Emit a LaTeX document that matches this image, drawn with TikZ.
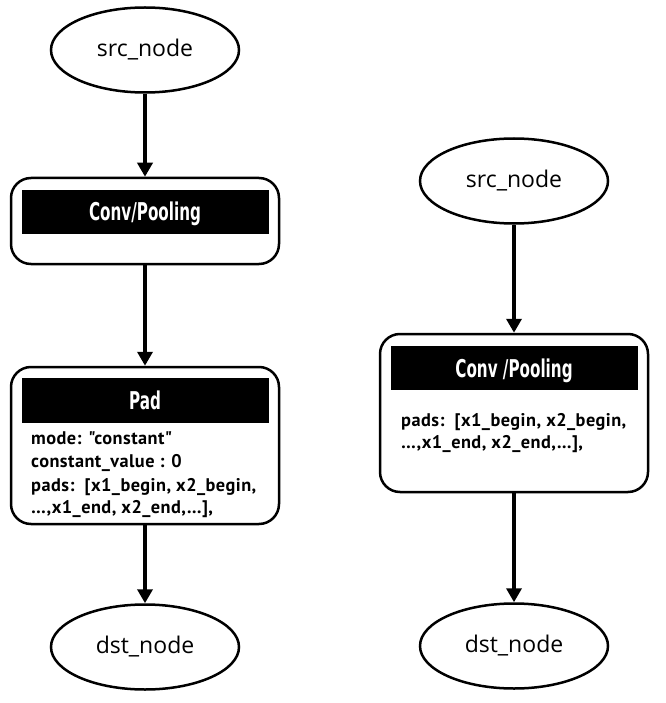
\documentclass[tikz,border=0pt]{standalone}
\usepackage{fontspec}
\usepackage{graphicx}
\usetikzlibrary{shapes.geometric,arrows.meta}
\newfontfamily\ellfont{Open Sans}
\newfontfamily\attrfont[LetterSpace=2.5]{PT Sans}
\newfontfamily\titlefont{DejaVu Sans}
\begin{document}
\begin{tikzpicture}[x=1pt,y=-1pt,
  ell/.style={ellipse,draw,line width=2.5pt,minimum width=188pt,minimum height=85pt,inner sep=0pt,
    font=\ellfont\fontsize{23}{26}\selectfont},
  opbox/.style={draw,rounded corners=20pt,line width=2.5pt,minimum width=268pt,inner sep=0pt},
  bar/.style={fill=black,minimum width=247pt,minimum height=44pt,inner sep=0pt,text=white,
    text height=18pt,text depth=0pt,font=\titlefont\bfseries\fontsize{24.5}{28}\selectfont},
  attr/.style={anchor=base west,inner sep=0pt,font=\attrfont\bfseries\fontsize{18.3}{20}\selectfont},
  flow/.style={line width=4pt,-{Triangle[width=15pt,length=14pt]}}]
\useasboundingbox (0,0) rectangle (665,703);
% left column
\node[ell] (lsrc) at (145,50) {src\_node};
\node[opbox,minimum height=86pt] (lconv) at (145,221) {};
\node[bar] (lconvbar) at (145,212) {\scalebox{0.62}[1]{Conv/Pooling}};
\node[opbox,minimum height=157pt] (lpad) at (145,445.5) {};
\node[bar,minimum height=45pt] (lpadbar) at (145,400.5) {\scalebox{0.62}[1]{Pad}};
\node[attr] (lmode) at (31,444) {mode: "constant"};
\node[attr] (lcval) at (31,467) {constant\_value : 0};
\node[attr] (lpads) at (31,491) {pads:\ \ [x1\_begin, x2\_begin,};
\node[attr] (lpads2) at (31,513) {\dots,x1\_end, x2\_end,\dots],};
\node[ell] (ldst) at (145,647) {dst\_node};
\draw[flow] (lsrc) -- (lconv);
\draw[flow] (lconv) -- (lpad);
\draw[flow] (lpad) -- (ldst);
% right column
\node[ell] (rsrc) at (514,181) {src\_node};
\node[opbox,minimum height=158pt] (rconv) at (514,413) {};
\node[bar] (rconvbar) at (514,368) {\scalebox{0.62}[1]{Conv /Pooling}};
\node[attr] (rpads) at (401,426) {pads:\ \ [x1\_begin, x2\_begin,};
\node[attr] (rpads2) at (401,448) {\dots,x1\_end, x2\_end,\dots],};
\node[ell] (rdst) at (514,646) {dst\_node};
\draw[flow] (rsrc) -- (rconv);
\draw[flow] (rconv) -- (rdst);
\end{tikzpicture}
\end{document}
